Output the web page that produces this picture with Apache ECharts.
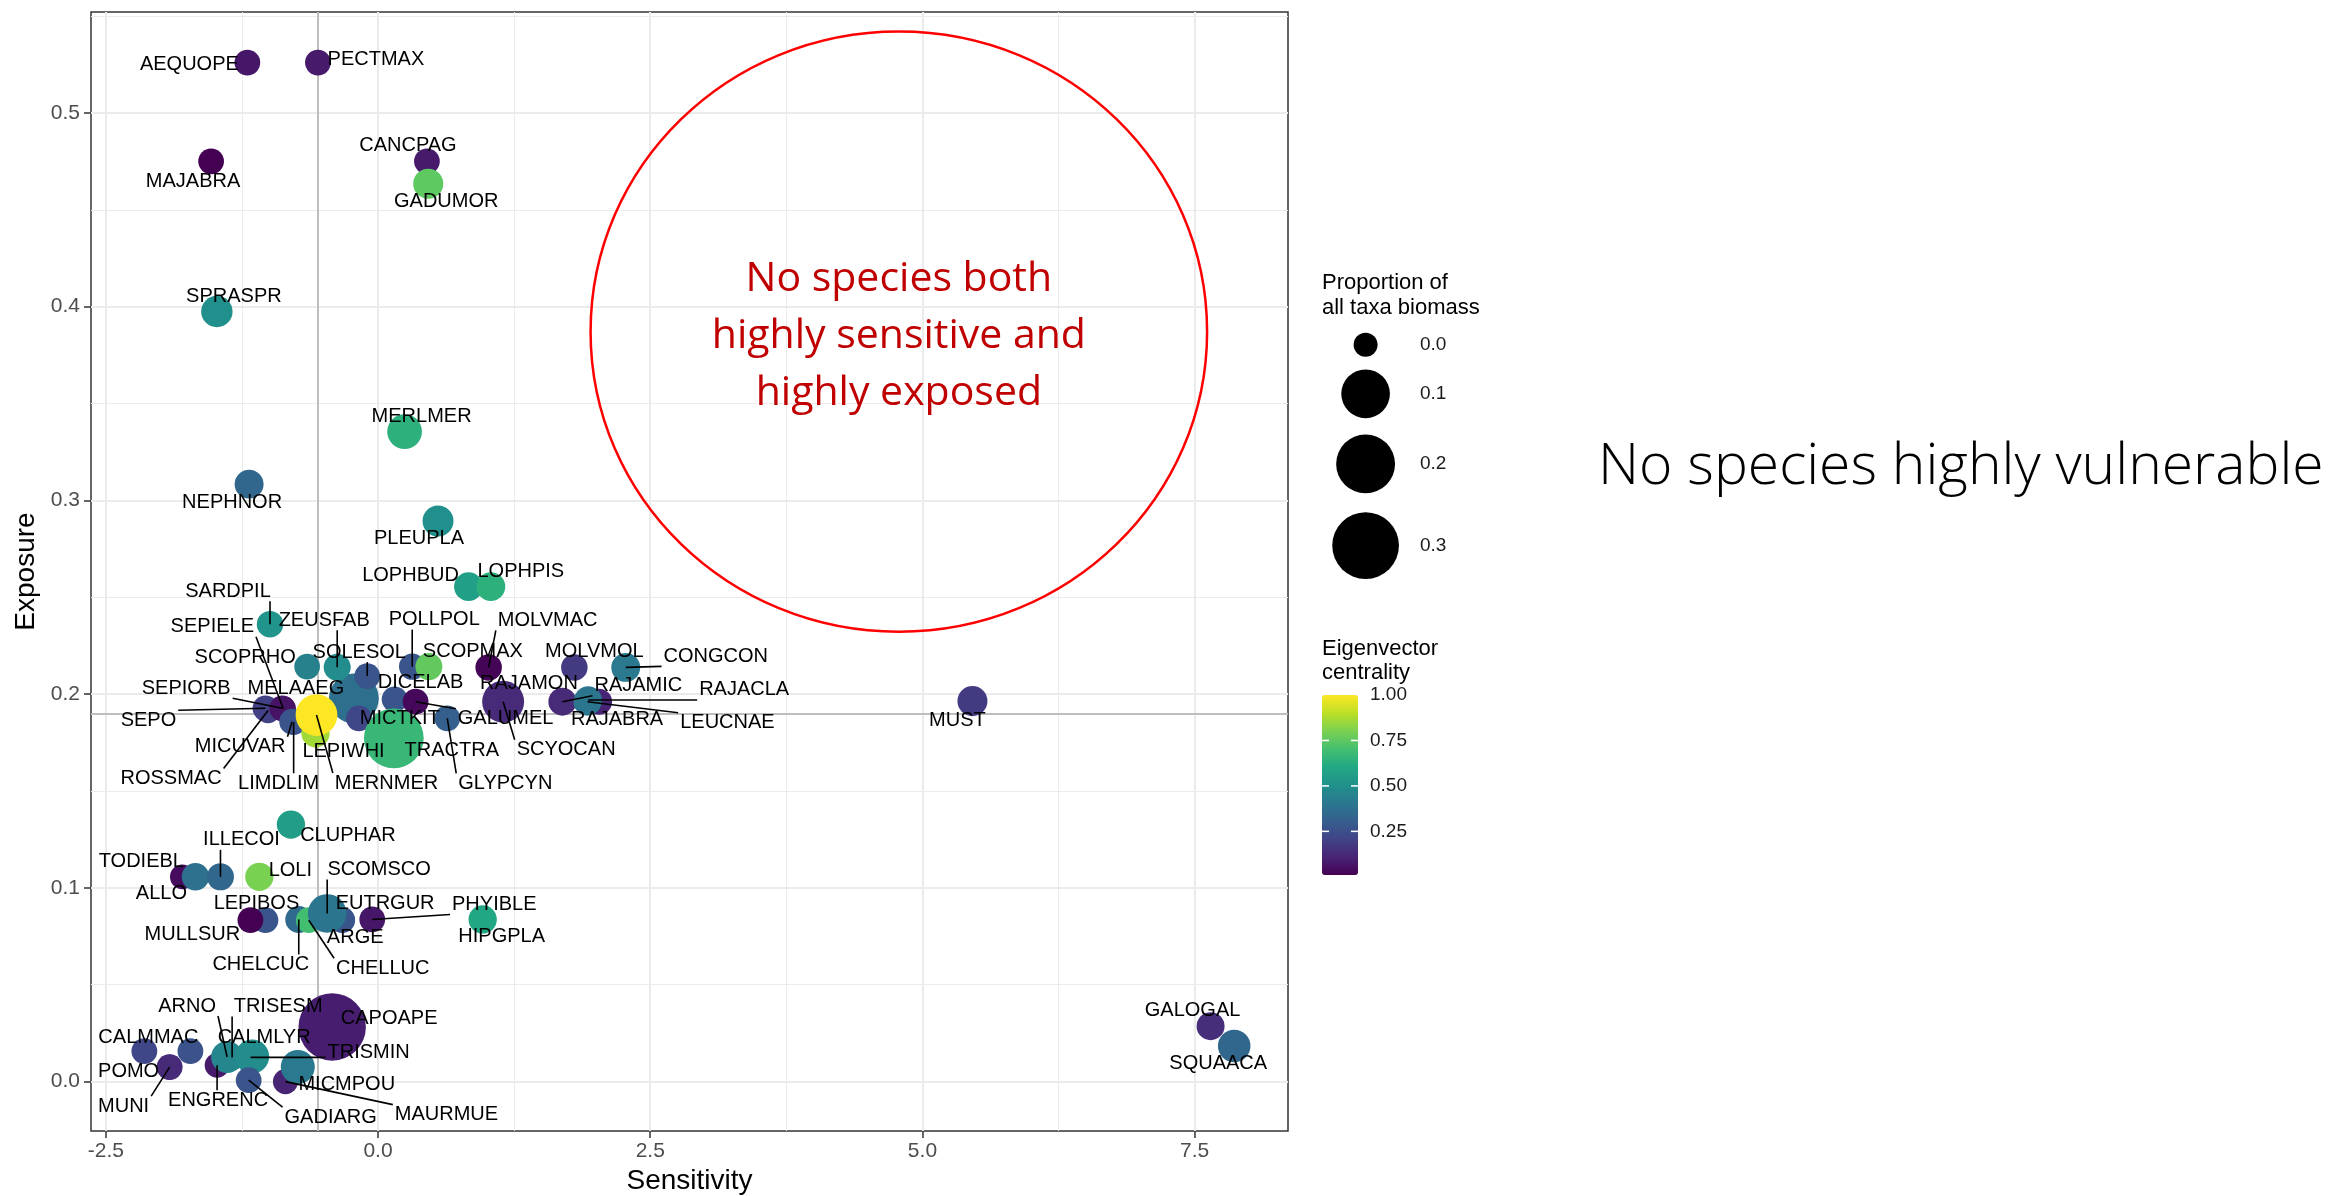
<!DOCTYPE html>
<html><head><meta charset="utf-8">
<script src="https://cdn.jsdelivr.net/npm/echarts@6/dist/echarts.min.js"></script>
<style>html,body{margin:0;padding:0;background:#fff}#c{width:2329px;height:1196px}</style>
</head><body><div id="c"></div>
<script>
// ---------------- DATA ----------------
const species = [
 'MAJABRA','AEQUOPE','PECTMAX','CANCPAG','GADUMOR','SPRASPR','MERLMER','NEPHNOR','PLEUPLA','LOPHBUD',
 'LOPHPIS','SARDPIL','MELAAEG','SCOPRHO','ZEUSFAB','SOLESOL','POLLPOL','SCOPMAX','MOLVMAC','MOLVMOL',
 'CONGCON','DICELAB','GALUMEL','MICTKIT','TRACTRA','GLYPCYN','ROSSMAC','SEPO','SEPIELE','SEPIORB',
 'LIMDLIM','MICUVAR','LEPIWHI','MERNMER','RAJAMON','SCYOCAN','RAJAMIC','RAJABRA','RAJACLA','LEUCNAE',
 'MUST','CLUPHAR','TODIEBL','ALLO','ILLECOI','LOLI','LEPIBOS','MULLSUR','CHELCUC','CHELLUC',
 'EUTRGUR','ARGE','SCOMSCO','PHYIBLE','HIPGPLA','CAPOAPE','CALMMAC','','MUNI','POMO',
 'ENGRENC','TRISESM','ARNO','TRISMIN','CALMLYR','GADIARG','MAURMUE','MICMPOU','GALOGAL','SQUAACA'
];
const sensitivity = [
 -1.533,-1.200,-0.552, 0.449, 0.461,-1.480, 0.244,-1.184, 0.551, 0.831,
  1.036,-0.992,-0.222,-0.651,-0.375,-0.099, 0.314, 0.467, 1.016, 1.803,
  2.275, 0.152, 0.345,-0.176, 0.145, 0.636,-1.010,-1.034,-0.870,-0.880,
 -0.775,-0.789,-0.574,-0.565, 1.120, 1.149, 1.693, 2.030, 1.930, 1.923,
  5.459,-0.800,-1.797,-1.677,-1.447,-1.090,-1.034,-1.172,-0.728,-0.636,
 -0.330,-0.329,-0.467,-0.053, 0.961,-0.421,-2.146,-1.723,-1.914,-1.914,
 -1.478,-1.340,-1.386,-1.170,-1.156,-1.188,-0.850,-0.737, 7.646, 7.863
];
const exposure = [
 0.475, 0.526, 0.526, 0.475, 0.4635,0.3975,0.3355,0.3084,0.2894,0.2555,
 0.2555,0.2361,0.1978,0.2142,0.2139,0.2093,0.2142,0.2142,0.2138,0.2138,
 0.2138,0.1973,0.1961,0.1875,0.1772,0.1875,0.1915,0.1927,0.1925,0.1927,
 0.1855,0.1858,0.1798,0.1892,0.1985,0.1961,0.1961,0.1961,0.1970,0.1961,
 0.1964,0.1327,0.1057,0.1057,0.1057,0.1057,0.0833,0.0833,0.0837,0.0833,
 0.0835,0.0833,0.0868,0.0837,0.0837,0.0282,0.0157,0.0157,0.0075,0.0075,
 0.0084,0.0125,0.0127,0.0125,0.0130,0.0007,0.0000,0.0075,0.0286,0.0184
];
const biomass = [
 0.0005,0.0005,0.0005,0.0005,0.006, 0.009, 0.019, 0.004, 0.008, 0.004,
 0.004, 0.001, 0.110, 0.0005,0.0015,0.0005,0.001, 0.0015,0.001, 0.001,
 0.004, 0.0005,0.0005,0.0005,0.210, 0.0005,0.0003,0.0005,0.0003,0.0005,
 0.0003,0.0005,0.003, 0.052, 0.002, 0.053, 0.0026,0.0007,0.002, 0.0026,
 0.006, 0.003, 0.0001,0.002, 0.0015,0.003, 0.0005,0.0005,0.0015,0.0005,
 0.0003,0.0005,0.035, 0.0005,0.003, 0.310, 0.0005,0.0005,0.0003,0.0005,
 0.0001,0.0005,0.0105,0.005, 0.0165,0.0005,0.0002,0.0165,0.0026,0.012
];
const centrality = [
 0.01,0.07,0.08,0.08,0.75,0.50,0.64,0.34,0.50,0.57,
 0.64,0.52,0.37,0.44,0.49,0.27,0.27,0.76,0.02,0.18,
 0.41,0.27,0.03,0.22,0.67,0.31,0.20,0.20,0.06,0.06,
 0.27,0.27,0.86,1.00,0.13,0.13,0.13,0.11,0.40,0.40,
 0.18,0.56,0.04,0.38,0.34,0.80,0.27,0.01,0.35,0.70,
 0.27,0.27,0.40,0.07,0.60,0.09,0.22,0.26,0.13,0.13,
 0.08,0.46,0.46,0.49,0.49,0.27,0.11,0.41,0.14,0.34
];
const xTicks = [-2.5, 0, 2.5, 5, 7.5];
const yTicks = [0, 0.1, 0.2, 0.3, 0.4, 0.5];
const xMinor = [-1.25, 1.25, 3.75, 6.25];
const yMinor = [0.05, 0.15, 0.25, 0.35, 0.45, 0.55];
const meanSensitivity = -0.552;
const meanExposure = 0.1888;
const sizeBreaks = [0.0, 0.1, 0.2, 0.3];
const colourBreaks = [1.00, 0.75, 0.50, 0.25];
const zoneCentre = [4.783, 0.3871];
const zoneRadius = [2.831, 0.1549];
const zoneText = 'No species both\nhighly sensitive and\nhighly exposed';
const sideText = 'No species highly vulnerable';
const sizeTitle = 'Proportion of\nall taxa biomass';
const colourTitle = 'Eigenvector\ncentrality';

// ---------------- LAYOUT (label nudges in px: dx, dy, draw segment) ----------------
const labelNudge = {
 MAJABRA:[-18,20,0], AEQUOPE:[-58,2,0], PECTMAX:[58,-3,0], CANCPAG:[-19,-16,0], GADUMOR:[18,18,0],
 SPRASPR:[17,-15,0], MERLMER:[17,-15,0], NEPHNOR:[-17,18,0], PLEUPLA:[-19,18,0], LOPHBUD:[-58,-11,0],
 LOPHPIS:[30,-15,0], SARDPIL:[-42,-33,1], MELAAEG:[-58,-10,0], SCOPRHO:[-62,-9,0], ZEUSFAB:[-13,-47,1],
 SOLESOL:[-8,-24,1], POLLPOL:[22,-47,1], SCOPMAX:[44,-15,0], MOLVMAC:[59,-47,1], MOLVMOL:[20,-16,0],
 CONGCON:[90,-11,1], DICELAB:[26,-17,0], GALUMEL:[90,17,1], MICTKIT:[41,0,0], TRACTRA:[58,12,0],
 GLYPCYN:[58,65,1], ROSSMAC:[-97,68,1], SEPO:[-117,12,1], SEPIELE:[-71,-82,1], SEPIORB:[-96,-20,1],
 LIMDLIM:[-15,61,1], MICUVAR:[-52,25,1], LEPIWHI:[28,18,0], MERNMER:[70,68,1], RAJAMON:[29,-14,0],
 SCYOCAN:[63,48,1], RAJAMIC:[76,-16,1], RAJABRA:[18,18,0], RAJACLA:[156,-10,1], LEUCNAE:[140,21,1],
 MUST:[-15,19,0], CLUPHAR:[57,11,0], TODIEBL:[-41,-15,0], ALLO:[-34,17,0], ILLECOI:[21,-37,1],
 LOLI:[31,-6,0], LEPIBOS:[-9,-17,0], MULLSUR:[-58,14,0], CHELCUC:[-38,45,1], CHELLUC:[74,48,1],
 EUTRGUR:[43,-16,0], ARGE:[13,17,0], SCOMSCO:[52,-44,1], PHYIBLE:[122,-15,1], HIPGPLA:[19,17,0],
 CAPOAPE:[57,-8,0], CALMMAC:[4,-14,0], MUNI:[-46,39,1], POMO:[-41,4,0], ENGRENC:[1,35,1],
 TRISESM:[46,-51,1], ARNO:[-40,-51,1], TRISMIN:[118,-5,1], CALMLYR:[12,-19,0], GADIARG:[82,37,1],
 MAURMUE:[161,33,1], MICMPOU:[49,17,0], GALOGAL:[-18,-16,0], SQUAACA:[-16,18,0]
};

const viridis = ['#440154','#482475','#414487','#355F8D','#2A788E','#21918C','#22A884','#44BF70','#7AD151','#BDDF26','#FDE725'];
const FONT = '"Liberation Sans", Arial, sans-serif';
function radiusOf(p){ return 12 + 39 * Math.sqrt(Math.max(p, 0)); }
const mctx = document.createElement('canvas').getContext('2d');
function textWidth(t, size){ mctx.font = size + 'px ' + FONT; return mctx.measureText(t).width; }

const grid = {left: 91, top: 12, width: 1197, height: 1119};
const cMin = Math.min.apply(null, centrality), cMax = 1;
const bar = {left: 1322, top: 695, width: 36, height: 180};

const points = species.map((n, i) => ({name: n, value: [sensitivity[i], exposure[i], biomass[i], centrality[i]]}));

const chart = echarts.init(document.getElementById('c'), null, {renderer: 'canvas'});

const graphics = [];
// size legend
graphics.push({type:'text', left: 1322, top: 270, style:{text: sizeTitle, font: '22px ' + FONT, fill:'#000', lineHeight: 25}});
const sizeY = [344.7, 393.8, 463.9, 545.6];
sizeBreaks.forEach((b, k) => {
  graphics.push({type:'circle', shape:{cx: 1365.6, cy: sizeY[k], r: radiusOf(b)}, style:{fill:'#000'}});
  graphics.push({type:'text', x: 1420, y: sizeY[k], style:{text: b.toFixed(1), font: '19px ' + FONT, fill:'#1A1A1A', verticalAlign:'middle', align:'left'}});
});
// colour legend
graphics.push({type:'text', left: 1322, top: 637, style:{text: colourTitle, font: '22px ' + FONT, fill:'#000', lineHeight: 24}});
colourBreaks.forEach(v => {
  const y = bar.top + (cMax - v) / (cMax - cMin) * bar.height;
  graphics.push({type:'text', x: 1370, y: y, style:{text: v.toFixed(2), font: '19px ' + FONT, fill:'#1A1A1A', verticalAlign:'middle', align:'left'}, z: 100});
  if (v < 1) {
    graphics.push({type:'line', shape:{x1: bar.left, y1: y, x2: bar.left + 7, y2: y}, style:{stroke:'#fff', lineWidth: 1.5}, z: 100});
    graphics.push({type:'line', shape:{x1: bar.left + bar.width - 7, y1: y, x2: bar.left + bar.width, y2: y}, style:{stroke:'#fff', lineWidth: 1.5}, z: 100});
  }
});
graphics.push({type:'text', x: 1598, y: 468, style:{text: sideText, font: '300 57px "Open Sans", sans-serif', fill:'#000', verticalAlign:'middle', align:'left'}});

const option = {
  animation: false,
  backgroundColor: '#fff',
  grid: Object.assign({show: true, borderColor: '#333333', borderWidth: 1.5, backgroundColor: 'transparent', containLabel: false, outerBoundsMode: 'none'}, grid),
  xAxis: {
    type: 'value', min: -2.636, max: 8.357,
    name: 'Sensitivity', nameLocation: 'middle', nameGap: 34,
    nameTextStyle: {fontFamily: FONT, fontSize: 28, color: '#000'},
    axisLine: {show: false, onZero: false},
    axisTick: {show: true, length: 7, lineStyle: {color: '#333', width: 1.5}, customValues: xTicks},
    axisLabel: {show: true, margin: 10, fontFamily: FONT, fontSize: 21, color: '#4D4D4D', customValues: xTicks, formatter: v => v.toFixed(1)},
    splitLine: {show: false}
  },
  yAxis: {
    type: 'value', min: -0.0255, max: 0.5521,
    name: 'Exposure', nameLocation: 'middle', nameGap: 50,
    nameTextStyle: {fontFamily: FONT, fontSize: 28, color: '#000'},
    axisLine: {show: false, onZero: false},
    axisTick: {show: true, length: 7, lineStyle: {color: '#333', width: 1.5}, customValues: yTicks},
    axisLabel: {show: true, margin: 11, fontFamily: FONT, fontSize: 21, color: '#4D4D4D', customValues: yTicks, formatter: v => v.toFixed(1)},
    splitLine: {show: false}
  },
  visualMap: {
    type: 'continuous', min: cMin, max: cMax, dimension: 3, seriesIndex: 2,
    calculable: false, hoverLink: false, realtime: false,
    left: bar.left, top: bar.top, itemWidth: bar.width, itemHeight: bar.height, padding: 0,
    orient: 'vertical', inRange: {color: viridis}, textStyle: {fontSize: 0}
  },
  graphic: graphics,
  series: [
    { // grid lines
      type: 'scatter', data: [], z: 1, silent: true,
      markLine: {
        silent: true, symbol: ['none','none'], z: 1, animation: false, label: {show: false},
        data: []
          .concat(xMinor.map(v => ({xAxis: v, lineStyle: {color: '#EBEBEB', width: 1, type: 'solid'}})))
          .concat(yMinor.map(v => ({yAxis: v, lineStyle: {color: '#EBEBEB', width: 1, type: 'solid'}})))
          .concat(xTicks.map(v => ({xAxis: v, lineStyle: {color: '#EBEBEB', width: 2, type: 'solid'}})))
          .concat(yTicks.map(v => ({yAxis: v, lineStyle: {color: '#EBEBEB', width: 2, type: 'solid'}})))
      }
    },
    { // mean reference lines
      type: 'scatter', data: [], z: 2, silent: true,
      markLine: {
        silent: true, symbol: ['none','none'], z: 2, animation: false, label: {show: false},
        lineStyle: {color: '#BEBEBE', width: 2, type: 'solid'},
        data: [{xAxis: meanSensitivity}, {yAxis: meanExposure}]
      }
    },
    { // species points
      type: 'scatter', z: 3, silent: true,
      data: points,
      symbol: 'circle',
      symbolSize: v => 2 * radiusOf(v[2]),
      itemStyle: {opacity: 1}
    },
    { // zone annotation
      type: 'custom', z: 4, silent: true, clip: false,
      data: [[zoneCentre[0], zoneCentre[1], zoneRadius[0], zoneRadius[1]]],
      encode: {x: 0, y: 1},
      renderItem: function(params, api){
        const c = api.coord([api.value(0), api.value(1)]);
        const s = api.size([api.value(2), api.value(3)]);
        return {type: 'group', children: [
          {type: 'ellipse', shape: {cx: c[0], cy: c[1], rx: Math.abs(s[0]), ry: Math.abs(s[1])}, style: {fill: 'none', stroke: '#FF0000', lineWidth: 2.5}},
          {type: 'text', x: c[0], y: c[1] + 5, style: {text: zoneText, font: '41px "Open Sans", sans-serif', lineHeight: 57, fill: '#C00000', align: 'center', verticalAlign: 'middle'}}
        ]};
      }
    },
    { // labels with segments
      type: 'custom', z: 5, silent: true, clip: false,
      data: species.map((n, i) => [sensitivity[i], exposure[i]]),
      encode: {x: 0, y: 1},
      renderItem: function(params, api){
        const name = species[params.dataIndex];
        const nd = labelNudge[name];
        if (!name || !nd) return null;
        const p = api.coord([api.value(0), api.value(1)]);
        const lx = p[0] + nd[0], ly = p[1] + nd[1];
        const children = [];
        if (nd[2]) {
          const hx = textWidth(name, 20) / 2 + 2, hy = 10;
          const ex = Math.max(lx - hx, Math.min(p[0], lx + hx));
          const ey = Math.max(ly - hy, Math.min(p[1], ly + hy));
          children.push({type: 'line', shape: {x1: p[0], y1: p[1], x2: ex, y2: ey}, style: {stroke: '#000', lineWidth: 1.6}});
        }
        children.push({type: 'text', x: lx, y: ly, style: {text: name, font: '20px ' + FONT, fill: '#000', align: 'center', verticalAlign: 'middle'}});
        return {type: 'group', children: children};
      }
    }
  ]
};
chart.setOption(option);
</script>
</body></html>
